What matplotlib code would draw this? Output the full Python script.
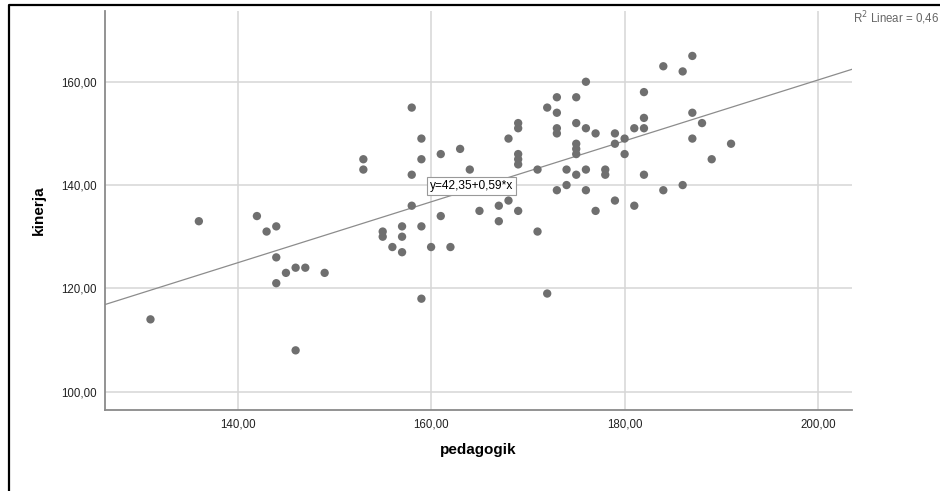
import numpy as np
import matplotlib
matplotlib.use("Agg")
import matplotlib.pyplot as plt
from matplotlib.ticker import FuncFormatter
from matplotlib.lines import Line2D

# values
pedagogik = [
    131, 136, 142, 144, 143, 144, 144, 145, 146, 147, 149, 146,
    153, 153, 155, 155, 156, 157, 157, 157, 158, 158, 158, 159, 159, 159, 159,
    160, 161, 161, 162, 163, 164, 165, 167, 167, 168, 168,
    169, 169, 169, 169, 169, 169, 171, 171, 172, 172,
    173, 173, 173, 173, 173, 174, 174,
    175, 175, 175, 175, 175, 175, 176, 176, 176, 176, 177, 177, 178, 178,
    179, 179, 179, 180, 180, 181, 181, 182, 182, 182, 182,
    184, 184, 186, 186, 187, 187, 187, 188, 189, 191,
]
kinerja = [
    114, 133, 134, 132, 131, 126, 121, 123, 124, 124, 123, 108,
    145, 143, 131, 130, 128, 132, 130, 127, 155, 142, 136, 149, 145, 132, 118,
    128, 146, 134, 128, 147, 143, 135, 136, 133, 149, 137,
    152, 151, 146, 145, 144, 135, 143, 131, 155, 119,
    157, 154, 151, 150, 139, 143, 140,
    157, 152, 148, 147, 146, 142, 160, 151, 143, 139, 150, 135, 143, 142,
    150, 148, 137, 149, 146, 151, 136, 158, 153, 151, 142,
    163, 139, 162, 140, 165, 154, 149, 152, 145, 148,
]

intercept = 42.35
slope = 0.59
r2_label = "R$^2$ Linear = 0,46"
fit_label = "y=42,35+0,59*x"

x_ticks = [140, 160, 180, 200]
y_ticks = [100, 120, 140, 160]

plt.rcParams["font.family"] = ["Liberation Sans", "DejaVu Sans"]

fig = plt.figure(figsize=(9.4, 4.91), dpi=100)
ax = fig.add_axes([105 / 940, 1 - 410 / 491, (852 - 105) / 940, (410 - 11) / 491])

ax.set_xlim(126.3, 203.5)
ax.set_ylim(96.45, 173.7)

ax.scatter(pedagogik, kinerja, s=36, color="#6f6f6f", edgecolors="none", zorder=3)

xl = np.array(ax.get_xlim())
ax.plot(xl, intercept + slope * xl, color="#8c8c8c", lw=0.9, zorder=2)

ax.text(159.9, 139.8, fit_label, fontsize=8.6, va="center", ha="left", zorder=4,
        bbox=dict(boxstyle="square,pad=0.25", fc="white", ec="#999999", lw=0.8))

ax.set_xticks(x_ticks)
ax.set_yticks(y_ticks)
fmt = FuncFormatter(lambda v, p: f"{v:.2f}".replace(".", ","))
ax.xaxis.set_major_formatter(fmt)
ax.yaxis.set_major_formatter(fmt)
ax.tick_params(length=0, labelsize=8.3, colors="#222222", pad=6)
ax.grid(True, color="#d6d6d6", lw=1.1)
ax.set_axisbelow(True)

for side in ["top", "right"]:
    ax.spines[side].set_visible(False)
for side in ["left", "bottom"]:
    ax.spines[side].set_color("#8a8a8a")
    ax.spines[side].set_linewidth(1.3)

ax.set_xlabel("pedagogik", fontsize=11, fontweight="bold", labelpad=9)
ax.set_ylabel("kinerja", fontsize=11, fontweight="bold", labelpad=11)

fig.text(853 / 940, 1 - 18 / 491, r2_label, fontsize=8.3, color="#666666",
         ha="left", va="center")

# screenshot frame on top/left edges
fig.add_artist(Line2D([8.5 / 940, 8.5 / 940, 1], [0, 1 - 5 / 491, 1 - 5 / 491],
                      transform=fig.transFigure, color="black", lw=1.6))

fig.savefig("out.png", dpi=100)
